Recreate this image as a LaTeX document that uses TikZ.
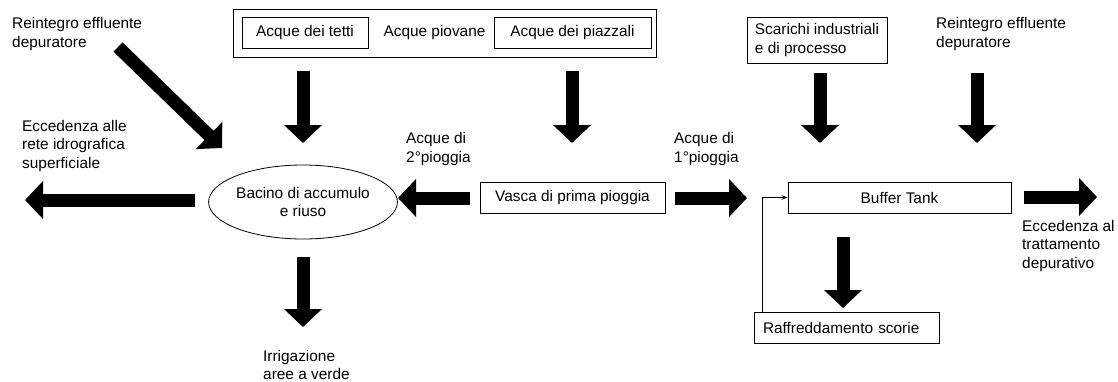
\documentclass[tikz,border=0pt]{standalone}
\usepackage{fontspec}
\setmainfont{Liberation Sans}
\usetikzlibrary{arrows.meta,shapes.geometric}
\begin{document}
\begin{tikzpicture}[x=1pt,y=-1pt,
  every node/.style={font=\fontsize{15.4}{18.5}\selectfont, inner sep=0pt},
  box/.style={draw, line width=1pt, minimum height=31pt},
  lbl/.style={align=left, anchor=west},
  fat/.style={line width=13pt, -{Triangle[length=18pt,width=37pt]}},
  thinarr/.style={line width=0.8pt, -{Stealth[length=6pt,width=4.5pt]}}]
\useasboundingbox (0,0) rectangle (1118,381);
% boxes
\node[box, minimum width=423pt, minimum height=48pt] (piov) at (444.5,33) {};
\node (piovt) at (434.5,33) {Acque piovane};
\node[box, minimum width=126pt] (tetti) at (305,32.5) {Acque dei tetti};
\node[box, minimum width=157pt] (piazz) at (572.5,32.5) {Acque dei piazzali};
\node[draw, ellipse, line width=0.8pt, minimum width=174pt, minimum height=74pt, align=center] (bac) at (303,202) {Bacino di accumulo\\e riuso};
\node[box, minimum width=185pt] (vasca) at (572.5,197.5) {Vasca di prima pioggia};
\node[box, minimum width=140pt, minimum height=46pt, align=left] (scar) at (817,40) {Scarichi industriali\\e di processo};
\node[box, minimum width=223pt] (buf) at (899.5,197.5) {Buffer Tank};
\node[box, text width=167pt, inner xsep=9pt, align=left] (raff) at (846.5,327.5) {Raffreddamento scorie};
% labels
\node[lbl] (r1) at (12,34) {Reintegro effluente\\depuratore};
\node[lbl] (el) at (22,146) {Eccedenza alle\\rete idrografica\\superficiale};
\node[lbl] (a2) at (406,149) {Acque di\\2°pioggia};
\node[lbl] (a1) at (674,149) {Acque di\\1°pioggia};
\node[lbl] (r2) at (936,34) {Reintegro effluente\\depuratore};
\node[lbl] (er) at (1022,246) {Eccedenza al\\trattamento\\depurativo};
\node[lbl, font=\fontsize{15.4}{18}\selectfont] (irr) at (263,365) {Irrigazione\\aree a verde};
% arrow end points
\coordinate (dgS) at (118,47);   \coordinate (dgE) at (222,148);
\coordinate (ttS) at (303,71);   \coordinate (ttE) at (303,143);
\coordinate (pzS) at (572,71);   \coordinate (pzE) at (572,143);
\coordinate (elS) at (195,200);  \coordinate (elE) at (25,200);
\coordinate (v2S) at (470,198);  \coordinate (v2E) at (398,198);
\coordinate (v1S) at (675,198);  \coordinate (v1E) at (747,198);
\coordinate (scS) at (820,73);   \coordinate (scE) at (820,143);
\coordinate (r2S) at (977,73);   \coordinate (r2E) at (977,143);
\coordinate (erS) at (1024,197); \coordinate (erE) at (1097,197);
\coordinate (bfS) at (843,237);  \coordinate (bfE) at (843,308);
\coordinate (irS) at (303,257);  \coordinate (irE) at (303,327);
% fat arrows
\draw[fat] (dgS) -- (dgE);
\draw[fat] (ttS) -- (ttE);
\draw[fat] (pzS) -- (pzE);
\draw[fat] (elS) -- (elE);
\draw[fat] (v2S) -- (v2E);
\draw[fat] (v1S) -- (v1E);
\draw[fat] (scS) -- (scE);
\draw[fat] (r2S) -- (r2E);
\draw[fat] (erS) -- (erE);
\draw[fat] (bfS) -- (bfE);
\draw[fat] (irS) -- (irE);
% thin return line
\draw[thinarr] (raff.north west) ++(9,0) |- (buf.west);
\end{tikzpicture}
\end{document}
